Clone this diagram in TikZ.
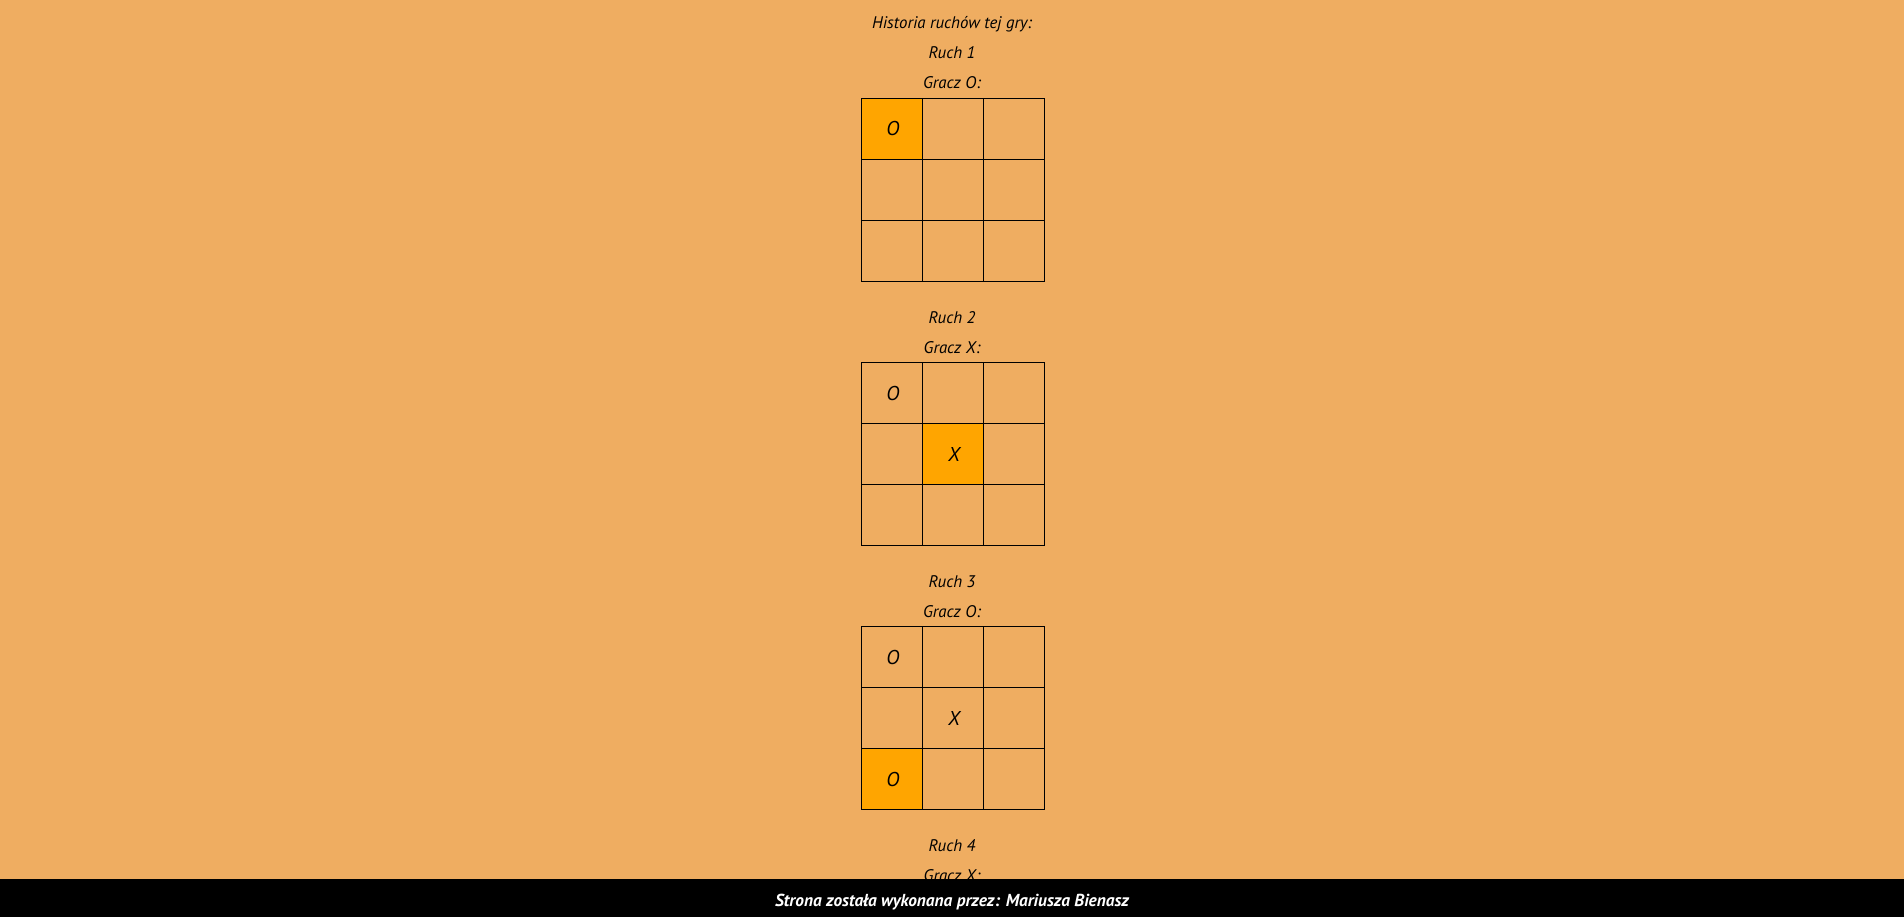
\documentclass[tikz,border=0pt]{standalone}
\usepackage{fontspec}
\setmainfont{PT Sans}
\definecolor{pagebg}{HTML}{EFAD61}
\definecolor{cellhit}{HTML}{FFA500}

\begin{document}
\begin{tikzpicture}[x=0.75pt,y=-0.75pt,
    caption/.style={font=\itshape\fontsize{12.6}{15}\selectfont, inner sep=0, anchor=base},
    cellmark/.style={font=\itshape\fontsize{15}{17}\selectfont, inner sep=0, anchor=base},
    boardline/.style={line width=0.7pt, black},
    hit/.style={fill=cellhit}]
  % page
  \fill[pagebg] (0,0) rectangle (1904,917);
  \useasboundingbox (0,0) rectangle (1904,917);
  \node[caption] (title) at (952,28.5) {Historia ruchów tej gry:};
  % move 1
  \node[caption] (ruch1) at (952,59) {Ruch 1};
  \node[caption] (gracz1) at (952,89) {Gracz O:};
  \fill[hit] (861,98) rectangle (922,159);
  \draw[boardline] (861,98) rectangle (1044,281)
    (922,98) -- (922,281) (983,98) -- (983,281)
    (861,159) -- (1044,159) (861,220) -- (1044,220);
  \node[cellmark] (b1a) at (893,136) {O};
  % move 2
  \node[caption] (ruch2) at (952,323) {Ruch 2};
  \node[caption] (gracz2) at (952,353) {Gracz X:};
  \fill[hit] (922,423) rectangle (983,484);
  \draw[boardline] (861,362) rectangle (1044,545)
    (922,362) -- (922,545) (983,362) -- (983,545)
    (861,423) -- (1044,423) (861,484) -- (1044,484);
  \node[cellmark] (b2a) at (893,400) {O};
  \node[cellmark] (b2b) at (954,461) {X};
  % move 3
  \node[caption] (ruch3) at (952,587) {Ruch 3};
  \node[caption] (gracz3) at (952,617) {Gracz O:};
  \fill[hit] (861,748) rectangle (922,809);
  \draw[boardline] (861,626) rectangle (1044,809)
    (922,626) -- (922,809) (983,626) -- (983,809)
    (861,687) -- (1044,687) (861,748) -- (1044,748);
  \node[cellmark] (b3a) at (893,664) {O};
  \node[cellmark] (b3b) at (954,725) {X};
  \node[cellmark] (b3c) at (893,786) {O};
  % move 4 (cut by the footer)
  \node[caption] (ruch4) at (952,851) {Ruch 4};
  \node[caption] (gracz4) at (952,881) {Gracz X:};
  % footer
  \fill[black] (0,879) rectangle (1904,917);
  \node[caption, white, font=\bfseries\itshape\fontsize{13}{15}\selectfont] (footer) at (952,906) {Strona została wykonana przez: Mariusza Bienasz};
\end{tikzpicture}
\end{document}
